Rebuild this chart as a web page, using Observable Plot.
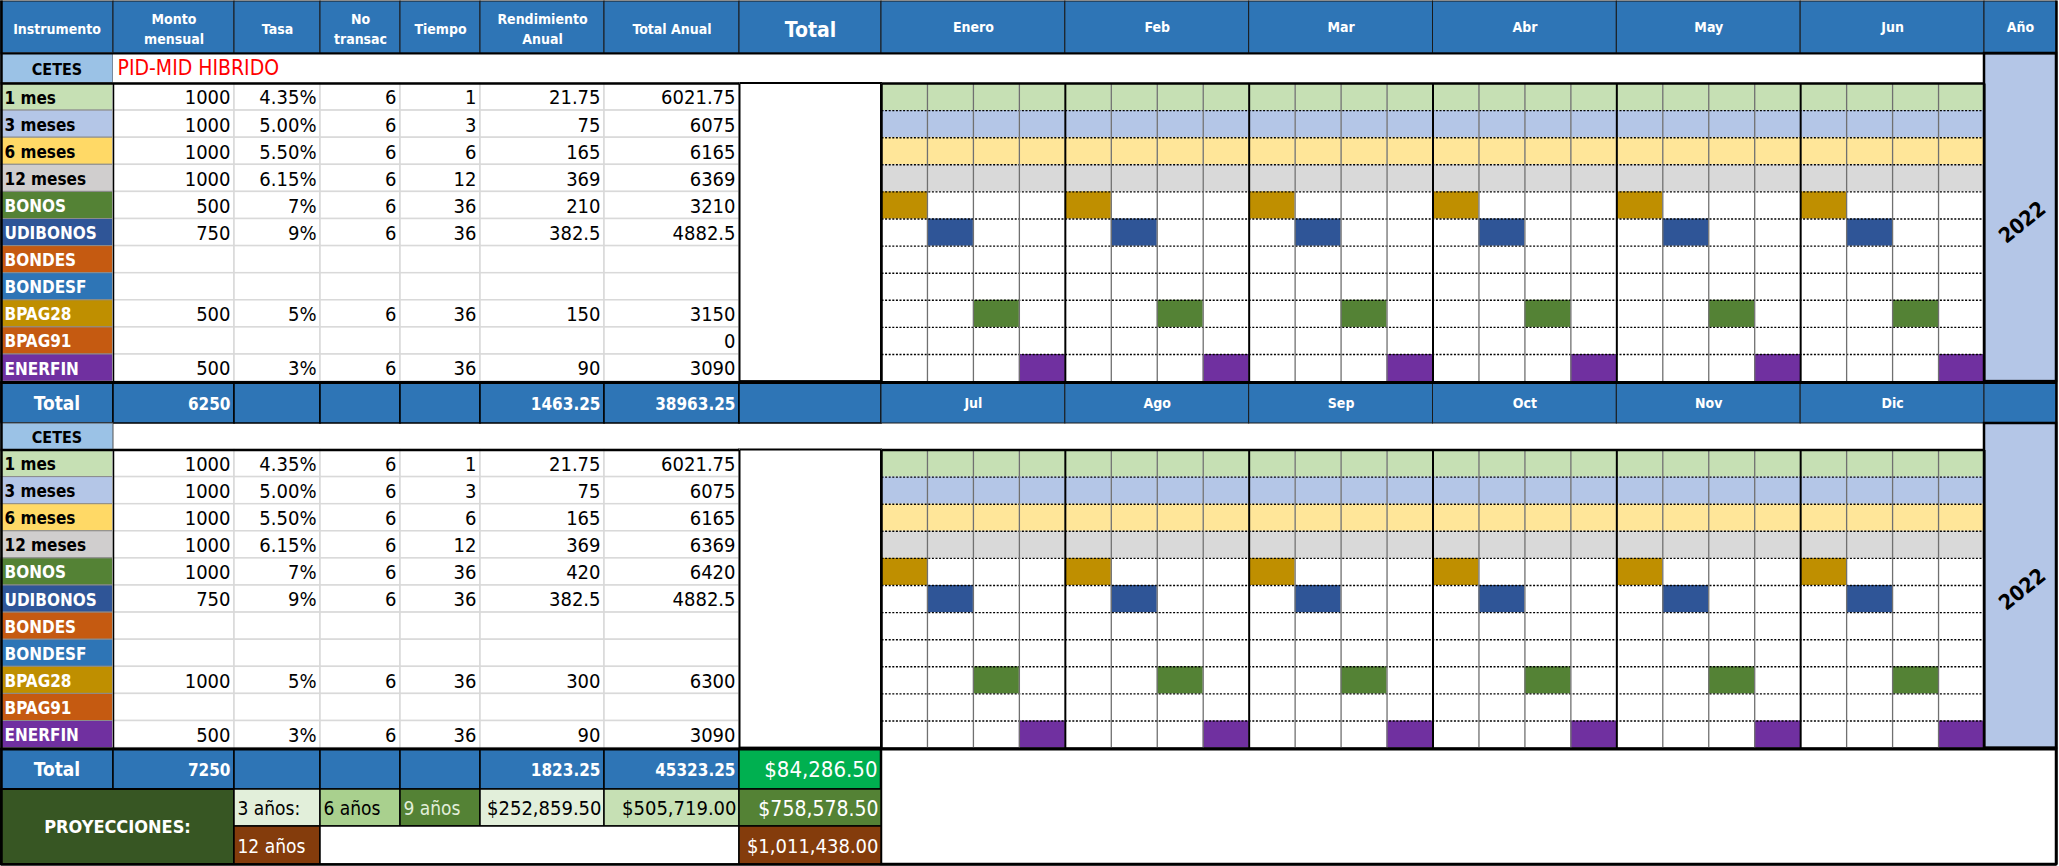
<!DOCTYPE html>
<html><head><meta charset="utf-8">
<script src="https://cdn.jsdelivr.net/npm/d3@7"></script>
<script src="https://cdn.jsdelivr.net/npm/@observablehq/plot@0.6"></script>
<style>body{margin:0;background:#fff}</style>
</head><body><div id="chart"></div>
<script>
// ---------- DATA ----------
const headers = ["Instrumento","Monto\nmensual","Tasa","No\ntransac","Tiempo","Rendimiento\nAnual","Total Anual","Total"];
const months1 = ["Enero","Feb","Mar","Abr","May","Jun"];
const months2 = ["Jul","Ago","Sep","Oct","Nov","Dic"];
const yearHeader = "Año";
const yearLabel = "2022";
const groupLabel = "CETES";
const planTitle = "PID-MID HIBRIDO";
const instruments = ["1 mes","3 meses","6 meses","12 meses","BONOS","UDIBONOS","BONDES","BONDESF","BPAG28","BPAG91","ENERFIN"];
// block 1 (Enero - Junio)
const monto1 = [1000,1000,1000,1000,500,750,null,null,500,null,500];
const tasa1 = ["4.35%","5.00%","5.50%","6.15%","7%","9%",null,null,"5%",null,"3%"];
const transac1 = [6,6,6,6,6,6,null,null,6,null,6];
const tiempo1 = [1,3,6,12,36,36,null,null,36,null,36];
const rend1 = [21.75,75,165,369,210,382.5,null,null,150,null,90];
const anual1 = [6021.75,6075,6165,6369,3210,4882.5,null,null,3150,0,3090];
const totals1 = [6250,1463.25,38963.25];
// block 2 (Julio - Diciembre)
const monto2 = [1000,1000,1000,1000,1000,750,null,null,1000,null,500];
const tasa2 = ["4.35%","5.00%","5.50%","6.15%","7%","9%",null,null,"5%",null,"3%"];
const transac2 = [6,6,6,6,6,6,null,null,6,null,6];
const tiempo2 = [1,3,6,12,36,36,null,null,36,null,36];
const rend2 = [21.75,75,165,369,420,382.5,null,null,300,null,90];
const anual2 = [6021.75,6075,6165,6369,6420,4882.5,null,null,6300,null,3090];
const totals2 = [7250,1823.25,45323.25];
const grandTotal = "$84,286.50";
// schedule: 0 = every week, n = week n of each month, null = none
const scheduleWeek = [0,0,0,0,1,2,null,null,3,null,4];
// projections
const proyTitle = "PROYECCIONES:";
const proyLabels = ["3 años:","6 años","9 años"];
const proyValues = ["$252,859.50","$505,719.00","$758,578.50"];
const proy12Label = "12 años";
const proy12Value = "$1,011,438.00";

// ---------- STYLE / LAYOUT ----------
const FONT = "'DejaVu Sans Condensed','Liberation Sans Narrow',sans-serif";
const BLUE = "#2e75b6";
const labelFill = ["#c6e0b4","#b4c6e7","#ffd966","#d0cece","#548235","#2f5597","#c55a11","#2e75b6","#bf8f00","#c55a11","#7030a0"];
const labelInk = ["#000","#000","#000","#000","#fff","#fff","#fff","#fff","#fff","#fff","#fff"];
const calFill = ["#c6e0b4","#b4c6e7","#ffe699","#d9d9d9","#bf8f00","#2f5597",null,null,"#548235",null,"#7030a0"];
const X = [0,113,234,320,400,480,604,739,881];
const CAL0 = 881, CAL1 = 1984, ANO1 = 2056;
const WK = (CAL1 - CAL0) / 24;
const RH = 27.1;
const B1 = 83, B2 = 449.5;

const rects = [], texts = [], lines = [], dots = [];
const cell = (x1,x2,y1,y2,fill,stroke="#000",sw=1) => rects.push({x1,x2,y1,y2,fill,stroke,sw});
const txt = (x,y,text,o={}) => texts.push({x,y,text,fill:o.fill||"#000",size:o.size||20,weight:o.weight||"normal",anchor:o.anchor||"middle",lh:o.lh||1,rot:o.rot||0});
const line = (x1,y1,x2,y2,stroke="#000",sw=2) => lines.push({x1,y1,x2,y2,stroke,sw});

// header row
headers.forEach((h,i) => {
  cell(X[i],X[i+1],1,53,BLUE,"#1a1a1a",1);
  txt((X[i]+X[i+1])/2, 27, h, {fill:"#fff", size:i===7?21:14, weight:"bold", lh:1.45});
});
function monthHeader(months, y1, y2) {
  months.forEach((m,i) => {
    const a = CAL0 + i*4*WK, b = a + 4*WK;
    cell(a,b,y1,y2,BLUE,"#1a1a1a",1);
    txt((a+b)/2,(y1+y2)/2,m,{fill:"#fff",size:14,weight:"bold"});
  });
}
monthHeader(months1, 1, 53);
cell(CAL1,ANO1,1,53,BLUE,"#1a1a1a",1);
txt((CAL1+ANO1)/2,27,yearHeader,{fill:"#fff",size:14,weight:"bold"});

// title row
cell(0,X[1],53,B1,"#9bc2e6","#555",1);
txt(X[1]/2,69,groupLabel,{size:16,weight:"bold"});
cell(X[1],CAL1,53,B1,"#fff","#fff",0);
txt(X[1]+4,68,planTitle,{fill:"#ff0000",size:21,anchor:"start"});

function block(base, cols) {
  const yEnd = base + 11*RH;
  cell(X[7],X[8],base,yEnd,"#fff","#000",2);
  instruments.forEach((name,i) => {
    const y1 = base + i*RH, y2 = y1 + RH, yc = (y1+y2)/2;
    cell(0,X[1],y1,y2,labelFill[i],"#8c8c8c",1);
    txt(4,yc+1,name,{fill:labelInk[i],size:17,weight:"bold",anchor:"start"});
    cols.forEach((arr,c) => {
      cell(X[c+1],X[c+2],y1,y2,"#fff","#d9d9d9",1.5);
      const v = arr[i];
      if (v != null) txt(X[c+2]-4,yc+1,String(v),{size:20,anchor:"end"});
    });
    for (let w = 0; w < 24; w++) {
      const s = scheduleWeek[i];
      const on = s === 0 || (s != null && (w % 4) === s - 1);
      if (on) cell(CAL0+w*WK,CAL0+(w+1)*WK,y1,y2,calFill[i],"none",0);
    }
    if (i > 0) dots.push({x1:CAL0,x2:CAL1,y1,y2:y1});
  });
  for (let w = 0; w <= 24; w++) {
    const xw = CAL0 + w*WK;
    line(xw,base,xw,yEnd,w%4===0?"#000":"#707070",w%4===0?2:1.3);
  }
  line(0,base,X[7],base,"#000",2.5);
  line(CAL0,base,CAL1,base,"#000",2.5);
  line(X[1],base,X[1],yEnd,"#000",1.5);
  line(X[7],base,X[7],yEnd,"#000",2);
  line(X[8],base,X[8],yEnd,"#000",2);
  return yEnd;
}
const end1 = block(B1,[monto1,tasa1,transac1,tiempo1,rend1,anual1]);
// year column block 1
cell(CAL1,ANO1,53,end1,"#b4c6e7","#000",2.5);
txt(2022,222,yearLabel,{size:21,weight:"bold",rot:-39});

// total row 1
const T1a = end1 + 1, T1b = 423;
function totalRow(y1,y2,vals,lastFill) {
  const yc = (y1+y2)/2;
  cell(0,X[1],y1,y2,BLUE,"#000",1.5);
  txt(X[1]/2,yc+1,"Total",{fill:"#fff",size:19,weight:"bold"});
  for (let c = 1; c < 7; c++) cell(X[c],X[c+1],y1,y2,BLUE,"#000",1.5);
  cell(X[7],X[8],y1,y2,lastFill,"#000",1.5);
  txt(X[2]-4,yc+1,String(vals[0]),{fill:"#fff",size:17,weight:"bold",anchor:"end"});
  txt(X[6]-4,yc+1,String(vals[1]),{fill:"#fff",size:17,weight:"bold",anchor:"end"});
  txt(X[7]-4,yc+1,String(vals[2]),{fill:"#fff",size:17,weight:"bold",anchor:"end"});
}
totalRow(T1a,T1b,totals1,BLUE);
monthHeader(months2,T1a,T1b);
cell(CAL1,ANO1,T1a,T1b,BLUE,"#1a1a1a",1);
line(0,T1a,ANO1,T1a,"#000",3);

// second CETES row
cell(0,X[1],T1b,B2,"#9bc2e6","#555",1);
txt(X[1]/2,(T1b+B2)/2+1,groupLabel,{size:16,weight:"bold"});
const end2 = block(B2,[monto2,tasa2,transac2,tiempo2,rend2,anual2]);
cell(CAL1,ANO1,T1b,end2,"#b4c6e7","#000",2.5);
txt(2022,589,yearLabel,{size:21,weight:"bold",rot:-39});

// total row 2
const T2a = end2 + 1, T2b = 789;
totalRow(T2a,T2b,totals2,"#00b050");
txt(X[8]-4,(T2a+T2b)/2+1,grandTotal,{fill:"#fff",size:22,anchor:"end"});
cell(X[8],ANO1,T2a,864,"#fff","#000",2.5);
line(0,T2a,ANO1,T2a,"#000",3);

// projections
const P1 = 789, P2 = 826, P3 = 864;
cell(0,X[2],P1,P3,"#375623","#000",2);
txt(X[2]/2,(P1+P3)/2,proyTitle,{fill:"#fff",size:18,weight:"bold"});
const pFill = ["#e2efda","#a9d08e","#548235"], pInk = ["#000","#000","#e2efda"];
proyLabels.forEach((l,i) => {
  cell(X[2+i],X[3+i],P1,P2,pFill[i],"#000",1.5);
  txt(X[2+i]+3,(P1+P2)/2+1,l,{fill:pInk[i],size:19,anchor:"start"});
});
const vFill = ["#e2efda","#c6e0b4","#548235"], vInk = ["#000","#000","#fff"];
proyValues.forEach((v,i) => {
  cell(X[5+i],X[6+i],P1,P2,vFill[i],"#000",1.5);
  txt(X[6+i]-3,(P1+P2)/2+1,v,{fill:vInk[i],size:i===2?21:20,anchor:"end"});
});
cell(X[2],X[3],P2,P3,"#843c0c","#000",1.5);
txt(X[2]+3,(P2+P3)/2+1,proy12Label,{fill:"#fff",size:19,anchor:"start"});
cell(X[3],X[7],P2,P3,"#fff","#000",1.5);
cell(X[7],X[8],P2,P3,"#843c0c","#000",1.5);
txt(X[8]-3,(P2+P3)/2+1,proy12Value,{fill:"#fff",size:20,anchor:"end"});

// outer frame
line(1,0,1,P3,"#000",2.5);
line(0,P3,ANO1,P3,"#000",2.5);
line(ANO1,0,ANO1,P3,"#000",2.5);
line(0,53,ANO1,53,"#000",2);

// ---------- PLOT ----------
const groups = d3.groups(texts, d => `${d.anchor}|${d.weight}|${d.lh}|${d.rot}`);
const textMarks = groups.map(([k,arr]) => {
  const [anchor,weight,lh,rot] = k.split("|");
  return Plot.text(arr, {x:"x", y:"y", text:"text", fill:"fill", fontSize:"size",
    textAnchor:anchor, fontWeight:weight, lineHeight:+lh, rotate:+rot, fontFamily:FONT});
});

const chart = Plot.plot({
  width: 2059, height: 866, margin: 0,
  style: {background:"#fff", fontFamily: FONT},
  x: {domain:[0,2059], range:[0,2059], axis:null},
  y: {domain:[0,866], range:[0,866], axis:null},
  color: {type:"identity"},
  marks: [
    Plot.rect(rects, {x1:"x1", x2:"x2", y1:"y1", y2:"y2", fill:"fill", stroke:"stroke", strokeWidth:"sw"}),
    Plot.link(dots, {x1:"x1", x2:"x2", y1:"y1", y2:"y2", stroke:"#000", strokeWidth:1.4, strokeDasharray:"2,1.6"}),
    Plot.link(lines, {x1:"x1", x2:"x2", y1:"y1", y2:"y2", stroke:"stroke", strokeWidth:"sw"}),
    ...textMarks
  ]
});
document.getElementById("chart").appendChild(chart);
</script>
</body></html>
